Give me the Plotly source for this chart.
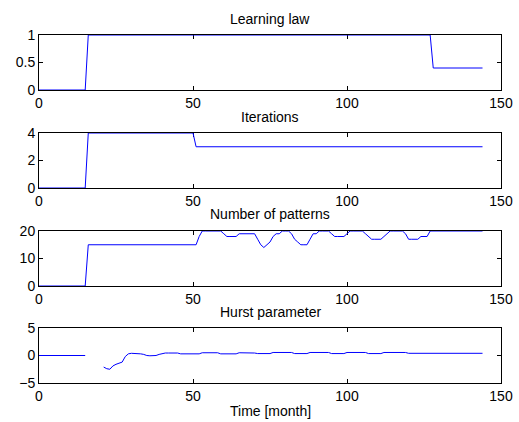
import numpy as np
import plotly.graph_objects as go

t = list(range(0, 145))

learning_law = [0.0]*16 + [1.0]*(128-16) + [0.4]*(145-128)
iterations = [0]*16 + [4]*(51-16) + [3]*(145-51)

patterns_pts = {}
def fill(a, b, v, d):
    for i in range(a, b+1):
        d[i] = v
fill(0, 15, 0, patterns_pts); fill(16, 51, 15, patterns_pts); fill(52, 52, 18, patterns_pts)
fill(53, 59, 20, patterns_pts); fill(60, 60, 19, patterns_pts); fill(61, 64, 18, patterns_pts)
fill(65, 70, 19, patterns_pts); fill(71, 71, 17, patterns_pts); fill(72, 72, 15, patterns_pts)
fill(73, 73, 14, patterns_pts); fill(74, 74, 15, patterns_pts); fill(75, 75, 16, patterns_pts)
fill(76, 76, 18, patterns_pts); fill(77, 78, 19, patterns_pts); fill(79, 81, 20, patterns_pts)
fill(82, 82, 19, patterns_pts); fill(83, 83, 17, patterns_pts); fill(84, 84, 16, patterns_pts)
fill(85, 87, 15, patterns_pts); fill(88, 88, 17, patterns_pts); fill(89, 90, 19, patterns_pts)
fill(91, 94, 20, patterns_pts); fill(95, 95, 19, patterns_pts); fill(96, 99, 18, patterns_pts)
fill(100, 100, 19, patterns_pts); fill(101, 105, 20, patterns_pts); fill(106, 106, 19, patterns_pts)
fill(107, 107, 18, patterns_pts); fill(108, 111, 17, patterns_pts); fill(112, 112, 18, patterns_pts)
fill(113, 113, 19, patterns_pts); fill(114, 118, 20, patterns_pts); fill(119, 119, 19, patterns_pts)
fill(120, 123, 17, patterns_pts); fill(124, 126, 18, patterns_pts); fill(127, 144, 20, patterns_pts)
patterns = [patterns_pts[i] for i in t]

hurst_pts = {}
fill(0, 15, 0.0, hurst_pts); fill(16, 20, None, hurst_pts)
for k, v in zip(range(21, 42), [-2.1, -2.4, -2.5, -1.9, -1.6, -1.4, -1.2, -0.2, 0.3, 0.4, 0.4,
                                0.35, 0.3, 0.2, 0.0, -0.05, -0.05, 0.0, 0.2, 0.35, 0.45]):
    hurst_pts[k] = v
fill(42, 45, 0.45, hurst_pts); fill(46, 52, 0.3, hurst_pts); fill(53, 58, 0.5, hurst_pts)
fill(59, 64, 0.3, hurst_pts); fill(65, 69, 0.5, hurst_pts); fill(70, 70, 0.45, hurst_pts)
fill(71, 75, 0.35, hurst_pts); fill(76, 82, 0.55, hurst_pts); fill(83, 87, 0.35, hurst_pts)
fill(88, 94, 0.55, hurst_pts); fill(95, 99, 0.35, hurst_pts); fill(100, 106, 0.55, hurst_pts)
fill(107, 111, 0.35, hurst_pts); fill(112, 119, 0.55, hurst_pts); fill(120, 144, 0.4, hurst_pts)
hurst = [hurst_pts[i] for i in t]

titles = ["Learning law", "Iterations", "Number of patterns", "Hurst parameter"]
series = [learning_law, iterations, patterns, hurst]
yranges = [[0, 1], [0, 4], [0, 20], [-5, 5]]
yticks = [[0, 0.5, 1], [0, 2, 4], [0, 10, 20], [-5, 0, 5]]
xticks = [0, 50, 100, 150]

W, H = 519, 422
boxes = [(35, 90), (133, 188), (231, 286), (328, 383)]
title_y = [19, 117, 214, 312]

font = dict(family="Liberation Sans, Arial", size=14, color="black")
fig = go.Figure()
layout = dict(width=W, height=H, margin=dict(l=39, r=18, t=0, b=0, pad=0, autoexpand=False),
              paper_bgcolor="white", plot_bgcolor="white", showlegend=False,
              font=font)
annotations = []
for i in range(4):
    xa = "x" if i == 0 else f"x{i+1}"
    ya = "y" if i == 0 else f"y{i+1}"
    fig.add_trace(go.Scatter(x=t, y=series[i], mode="lines", xaxis=xa, yaxis=ya,
                             line=dict(color="#0000ff", width=1), connectgaps=False,
                             cliponaxis=False))
    top, bot = boxes[i]
    axcommon = dict(showline=True, linecolor="black", linewidth=1, mirror="allticks",
                    ticks="inside", ticklen=4, tickcolor="black", showgrid=False,
                    zeroline=False, tickfont=font, automargin=False, layer="below traces")
    layout["xaxis" if i == 0 else f"xaxis{i+1}"] = dict(
        domain=[0, 1], range=[0, 150], tickvals=xticks, anchor=ya, **axcommon)
    layout["yaxis" if i == 0 else f"yaxis{i+1}"] = dict(
        domain=[1 - bot / H, 1 - top / H], range=yranges[i], tickvals=yticks[i],
        anchor=xa, **axcommon)
    annotations.append(dict(text=titles[i], x=0.5, xref="paper", y=1 - title_y[i] / H,
                            yref="paper", showarrow=False, font=font,
                            xanchor="center", yanchor="middle"))
annotations.append(dict(text="Time [month]", x=0.5, xref="paper", y=1 - 411 / H,
                        yref="paper", showarrow=False, font=font,
                        xanchor="center", yanchor="middle"))
layout["annotations"] = annotations
fig.update_layout(**layout)
fig.write_html("out.html")
